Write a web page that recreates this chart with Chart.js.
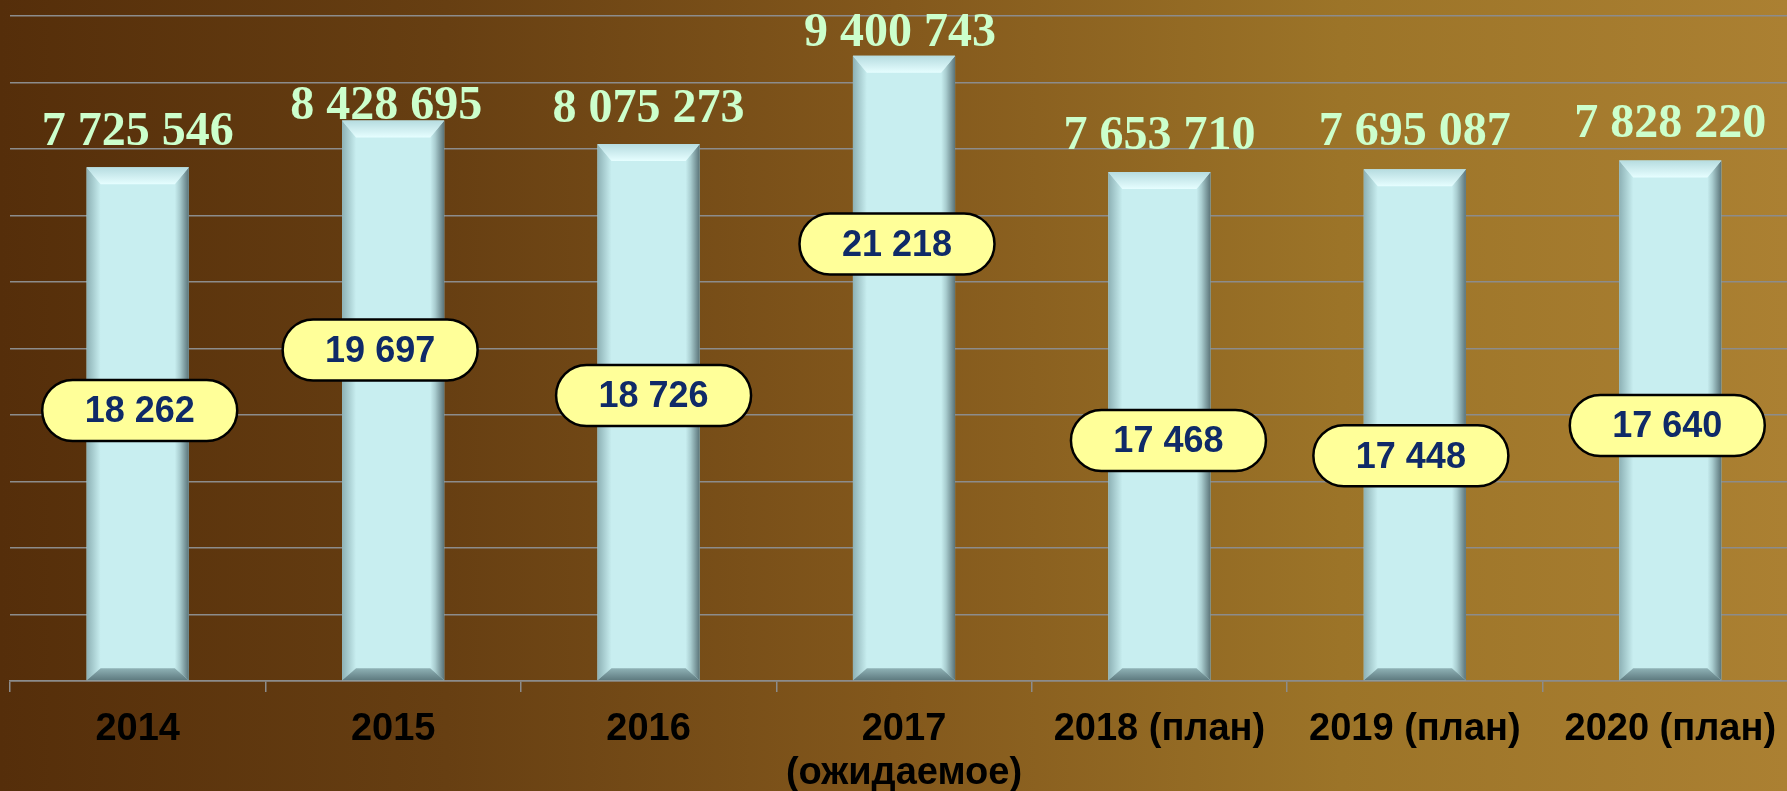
<!DOCTYPE html>
<html lang="ru">
<head>
<meta charset="utf-8">
<title>Диаграмма 2014–2020</title>
<script src="https://cdn.jsdelivr.net/npm/chart.js@4.4.1/dist/chart.umd.min.js"></script>
<style>
    html, body {
        margin: 0;
        padding: 0;
        width: 1787px;
        height: 791px;
        overflow: hidden;
        background: linear-gradient(90deg, #552e0a 0%, #673f12 25%, #83581c 50%, #9c7428 75%, #ab8032 100%);
    }
    #wrap {
        position: relative;
        width: 1787px;
        height: 791px;
        overflow: hidden;
    }
    #mainChart {
        position: absolute;
        left: 0;
        top: 0;
    }
</style>
</head>
<body>
<div id="wrap">
    <canvas id="mainChart" width="1798" height="791"></canvas>
</div>
<script>
// Data
const years = [['2014'], ['2015'], ['2016'], ['2017', '(ожидаемое)'], ['2018 (план)'], ['2019 (план)'], ['2020 (план)']];
const totals = [7725546, 8428695, 8075273, 9400743, 7653710, 7695087, 7828220];
const counts = [18262, 19697, 18726, 21218, 17468, 17448, 17640];
const yMax = 10000000;
const yStep = 1000000;

// Format numbers with a space between thousands
function spaced(n) {
    return String(n).replace(/\B(?=(\d{3})+(?!\d))/g, ' ');
}

function roundedPill(ctx, cx, cy, w, h) {
    const r = h / 2;
    ctx.beginPath();
    ctx.moveTo(cx - w / 2 + r, cy - r);
    ctx.lineTo(cx + w / 2 - r, cy - r);
    ctx.arc(cx + w / 2 - r, cy, r, -Math.PI / 2, Math.PI / 2);
    ctx.lineTo(cx - w / 2 + r, cy + r);
    ctx.arc(cx - w / 2 + r, cy, r, Math.PI / 2, Math.PI * 1.5);
    ctx.closePath();
}

function quad(ctx, pts, fill) {
    ctx.beginPath();
    ctx.moveTo(pts[0][0], pts[0][1]);
    for (let i = 1; i < pts.length; i++) ctx.lineTo(pts[i][0], pts[i][1]);
    ctx.closePath();
    ctx.fillStyle = fill;
    ctx.fill();
}

// Bevelled edges on top of the plain bars
const bevelPlugin = {
    id: 'bevel',
    afterDatasetsDraw(chart) {
        const ctx = chart.ctx;
        const meta = chart.getDatasetMeta(0);
        const side = 14, topB = 17, botB = 12;
        meta.data.forEach(bar => {
            const { x, y, base, width } = bar.getProps(['x', 'y', 'base', 'width'], true);
            const l = x - width / 2, r = x + width / 2, t = y, b = base;
            ctx.save();

            let g = ctx.createLinearGradient(l, 0, l + side, 0);
            g.addColorStop(0, '#8db1b5');
            g.addColorStop(1, '#c8eef0');
            quad(ctx, [[l, t], [l + side, t + topB], [l + side, b - botB], [l, b]], g);

            g = ctx.createLinearGradient(r - side, 0, r, 0);
            g.addColorStop(0, '#c8eef0');
            g.addColorStop(0.35, '#a9cdd0');
            g.addColorStop(1, '#5a7378');
            quad(ctx, [[r, t], [r, b], [r - side, b - botB], [r - side, t + topB]], g);

            g = ctx.createLinearGradient(0, t, 0, t + topB);
            g.addColorStop(0, '#b6dce0');
            g.addColorStop(1, '#e6feff');
            quad(ctx, [[l, t], [r, t], [r - side, t + topB], [l + side, t + topB]], g);

            g = ctx.createLinearGradient(0, b - botB, 0, b);
            g.addColorStop(0, '#8fb2b6');
            g.addColorStop(1, '#5e7a7f');
            quad(ctx, [[l, b], [l + side, b - botB], [r - side, b - botB], [r, b]], g);

            ctx.restore();
        });
    }
};

// Value labels above the bars and yellow pills with the counts
const labelPlugin = {
    id: 'valueLabels',
    afterDraw(chart, args, opts) {
        const ctx = chart.ctx;
        const yScale = chart.scales.y;
        const meta = chart.getDatasetMeta(0);
        ctx.save();
        meta.data.forEach((bar, i) => {
            // big number above bar
            ctx.font = 'bold 48px "Liberation Serif", "Times New Roman", serif';
            ctx.fillStyle = '#ccffcc';
            ctx.textAlign = 'center';
            ctx.textBaseline = 'alphabetic';
            ctx.fillText(spaced(totals[i]), bar.x + opts.topDx[i], bar.y - opts.topGap[i]);

            // pill
            const cx = bar.x + opts.pillDx[i];
            const cy = yScale.getPixelForValue(opts.pillAt[i]);
            roundedPill(ctx, cx, cy, 195, 61);
            ctx.fillStyle = '#ffff99';
            ctx.fill();
            ctx.lineWidth = 2.5;
            ctx.strokeStyle = '#000000';
            ctx.stroke();

            ctx.font = 'bold 36px "Liberation Sans", Arial, sans-serif';
            ctx.fillStyle = '#0f2a68';
            ctx.textBaseline = 'middle';
            ctx.fillText(spaced(counts[i]), cx, cy + 2);
        });
        ctx.restore();
    }
};

const ctx = document.getElementById('mainChart').getContext('2d');
const mainChart = new Chart(ctx, {
    type: 'bar',
    data: {
        labels: years,
        datasets: [{
            data: totals,
            backgroundColor: '#c8eef0',
            borderWidth: 0,
            barPercentage: 0.8,
            categoryPercentage: 0.5
        }]
    },
    options: {
        responsive: false,
        animation: false,
        devicePixelRatio: 1,
        layout: {
            padding: { left: 10, right: 0, top: 16, bottom: 0 }
        },
        plugins: {
            legend: { display: false },
            tooltip: { enabled: false },
            valueLabels: {
                topDx: [0, -7, 0, -4, 0, 0, 0],
                topGap: [22, 1, 22, 10, 23, 24, 23],
                pillDx: [2, -13, 5, -7, 9, -4, -3],
                pillAt: [4068000, 4977000, 4293000, 6571000, 3617000, 3388000, 3842000]
            }
        },
        scales: {
            x: {
                // keep the plot bottom at the same place as the original slide
                afterFit(scale) {
                    scale.height = 110;
                },
                grid: {
                    display: true,
                    drawOnChartArea: false,
                    drawTicks: true,
                    tickLength: 11,
                    color: '#8c8c8c',
                    lineWidth: 1.5
                },
                border: { display: true, color: '#8c8c8c', width: 1.5 },
                ticks: {
                    color: '#000000',
                    padding: 16,
                    maxRotation: 0,
                    autoSkip: false,
                    font: { family: '"Liberation Sans", Arial, sans-serif', size: 38, weight: 'bold', lineHeight: 1.15 }
                }
            },
            y: {
                min: 0,
                max: yMax,
                ticks: { display: false, stepSize: yStep },
                grid: { color: '#8c8c8c', lineWidth: 1.5, drawTicks: false },
                border: { display: false }
            }
        }
    },
    plugins: [bevelPlugin, labelPlugin]
});
</script>
</body>
</html>
